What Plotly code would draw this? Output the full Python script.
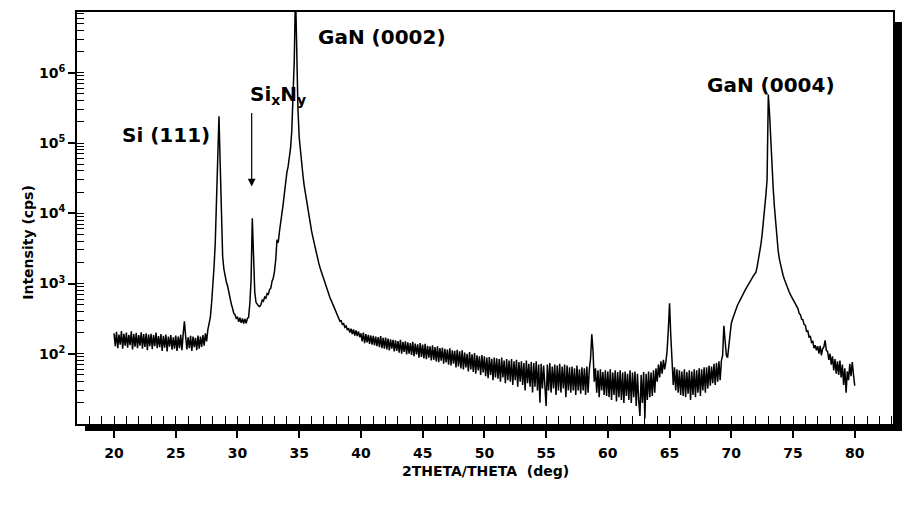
import numpy as np
import plotly.graph_objects as go

# ---- data (2theta grid 20.0 .. 80.0, step 0.1) ----
theta_start = 20.0
theta_step = 0.1
counts = [
    195, 128, 205, 120, 188, 135, 210, 118, 192, 130,   # 20
    200, 122, 186, 132, 208, 115, 190, 126, 198, 120,   # 21
    185, 130, 202, 118, 190, 125, 196, 112, 188, 128,   # 22
    192, 116, 184, 128, 200, 120, 178, 124, 190, 110,   # 23
    180, 122, 188, 108, 176, 126, 185, 114, 172, 118,   # 24
    182, 110, 175, 120, 186, 112, 190, 290, 178, 115,   # 25
    172, 120, 180, 110, 176, 124, 168, 112, 182, 118,   # 26
    176, 125, 185, 130, 195, 150, 220, 260, 330, 520,   # 27
    900, 1700, 3800, 14000, 80000, 240000, 50000, 8000, 2400, 1600,  # 28
    1250, 1050, 920, 740, 640, 510, 445, 375, 360, 320,  # 29
    335, 285, 325, 275, 318, 270, 312, 272, 318, 330,   # 30
    520, 1100, 8500, 2600, 750, 540, 500, 480, 470, 500,  # 31
    580, 560, 640, 620, 720, 700, 820, 860, 1080, 1200,  # 32
    1500, 2200, 4200, 3800, 5500, 8000, 11000, 13500, 19000, 28000,  # 33
    38000, 46000, 60000, 85000, 150000, 450000, 1500000, 15000000, 1200000, 300000,  # 34
    120000, 75000, 50000, 35000, 25000, 19000, 14500, 11500, 9200, 7400,  # 35
    5600, 4600, 3800, 3200, 2700, 2200, 1900, 1650, 1450, 1250,  # 36
    1100, 960, 850, 760, 690, 620, 570, 520, 470, 420,  # 37
    400, 345, 330, 290, 295, 262, 268, 238, 248, 218,   # 38
    232, 200, 228, 190, 222, 182, 215, 178, 208, 172,   # 39
    195, 150, 200, 142, 190, 145, 186, 138, 182, 135,   # 40
    180, 132, 176, 128, 172, 124, 178, 120, 168, 118,   # 41
    170, 115, 165, 112, 160, 118, 158, 108, 155, 110,   # 42
    152, 104, 158, 100, 148, 106, 150, 98, 145, 100,    # 43
    142, 96, 148, 92, 140, 98, 136, 88, 142, 90,        # 44
    135, 86, 138, 84, 130, 88, 128, 80, 132, 82,        # 45
    125, 78, 128, 76, 120, 80, 122, 72, 118, 75,        # 46
    115, 70, 120, 68, 112, 72, 110, 64, 114, 66,        # 47
    108, 62, 112, 60, 104, 64, 100, 56, 106, 60,        # 48
    98, 55, 102, 52, 95, 58, 92, 50, 96, 54,            # 49
    92, 48, 88, 45, 90, 50, 85, 42, 88, 46,             # 50
    86, 44, 84, 40, 88, 46, 80, 38, 84, 42,             # 51
    80, 40, 84, 36, 78, 42, 82, 34, 76, 40,             # 52
    78, 36, 74, 30, 80, 38, 72, 34, 76, 28,             # 53
    74, 34, 78, 30, 70, 20, 72, 32, 68, 30,             # 54
    18, 70, 30, 74, 28, 66, 32, 70, 26, 68,             # 55
    30, 72, 28, 66, 32, 70, 24, 68, 30, 64,             # 56
    28, 66, 30, 62, 26, 68, 30, 60, 27, 64,             # 57
    30, 62, 26, 66, 28, 60, 85, 190, 110, 40,           # 58
    62, 28, 58, 24, 60, 30, 55, 26, 58, 25,             # 59
    56, 24, 60, 22, 54, 26, 58, 21, 55, 24,             # 60
    58, 22, 54, 20, 56, 25, 52, 22, 58, 20,             # 61
    54, 24, 56, 18, 52, 22, 13, 50, 20, 55,             # 62
    12, 52, 22, 56, 24, 54, 25, 58, 28, 62,             # 63
    40, 70, 46, 78, 52, 82, 60, 76, 110, 220,           # 64
    525, 180, 70, 36, 64, 30, 60, 28, 58, 26,           # 65
    56, 25, 60, 24, 55, 27, 58, 22, 56, 26,             # 66
    60, 24, 58, 28, 62, 25, 60, 30, 64, 28,             # 67
    64, 32, 68, 35, 66, 38, 72, 36, 74, 40,             # 68
    78, 42, 80, 95, 250, 140, 95, 88, 130, 190,         # 69
    270, 310, 350, 400, 450, 490, 530, 580, 630, 680,   # 70
    730, 790, 850, 920, 990, 1030, 1120, 1200, 1290, 1380,  # 71
    1450, 1750, 2150, 2700, 3600, 5000, 7200, 11000, 18000, 30000,  # 72
    490000, 260000, 95000, 42000, 22000, 12000, 7000, 4300, 2900, 2200,  # 73
    1800, 1500, 1300, 1150, 1020, 900, 820, 750, 690, 640,  # 74
    600, 540, 520, 460, 440, 375, 360, 310, 305, 260,   # 75
    255, 205, 215, 170, 180, 145, 150, 120, 132, 112,   # 76
    128, 100, 130, 95, 118, 125, 155, 112, 108, 82,     # 77
    100, 70, 92, 58, 84, 52, 78, 50, 80, 46,            # 78
    70, 36, 62, 28, 56, 42, 72, 48, 76, 50,             # 79
    35,                                                 # 80
]
two_theta = np.round(theta_start + theta_step * np.arange(len(counts)), 1)

x_ticks = [20, 25, 30, 35, 40, 45, 50, 55, 60, 65, 70, 75, 80]
y_tickvals = [1e2, 1e3, 1e4, 1e5, 1e6]
y_ticktext = ["10<sup>2</sup>", "10<sup>3</sup>", "10<sup>4</sup>", "10<sup>5</sup>", "10<sup>6</sup>"]

peak_labels = ["Si (111)", "Si<sub>x</sub>N<sub>y</sub>", "GaN (0002)", "GaN (0004)"]
label_x = [27.95, 33.3, 41.7, 73.2]
label_logy = [5.12, 5.68, 6.51, 5.83]
label_anchor = ["right", "center", "center", "center"]

arrow_x = 31.15
arrow_logy = 4.38

x_range = [17.0, 83.1]
y_range_log = [1.0, 6.865]

FONT = "DejaVu Sans, Liberation Sans, Arial, sans-serif"

fig = go.Figure()
fig.add_trace(go.Scatter(x=two_theta, y=counts, mode="lines",
                         line=dict(color="black", width=1.5),
                         hoverinfo="skip", showlegend=False))

fig.update_layout(
    width=918, height=520,
    margin=dict(l=69, r=33, t=2, b=104),
    paper_bgcolor="white", plot_bgcolor="white",
    font=dict(family=FONT, color="black"),
    xaxis=dict(range=x_range, tickmode="array", tickvals=x_ticks,
               ticks="outside", ticklen=12, tickwidth=1.5, tickcolor="black",
               showline=True, linecolor="black", linewidth=1.6, mirror=True,
               showgrid=False, zeroline=False, ticklabelstandoff=3,
               tickfont=dict(family=FONT, size=14, weight="bold", color="black")),
    xaxis2=dict(range=x_range, overlaying="x", anchor="y", side="bottom",
                tickmode="linear", tick0=20, dtick=1,
                ticks="inside", ticklen=8, tickwidth=1.2, tickcolor="black",
                showticklabels=False, showgrid=False, zeroline=False, showline=False),
    yaxis=dict(type="log", range=y_range_log, tickmode="array",
               tickvals=y_tickvals, ticktext=y_ticktext,
               ticks="outside", ticklen=7, tickwidth=1.5, tickcolor="black",
               showline=True, linecolor="black", linewidth=1.6, mirror=True,
               showgrid=False, zeroline=False,
               tickfont=dict(family=FONT, size=14, weight="bold", color="black")),
    yaxis2=dict(type="log", range=y_range_log, overlaying="y", anchor="x", side="left",
                dtick="D1", ticks="inside", ticklen=7, tickwidth=1.1, tickcolor="black",
                showticklabels=False, showgrid=False, zeroline=False, showline=False),
)

# invisible helper trace so the overlay tick axes are drawn
fig.add_trace(go.Scatter(x=[two_theta[0]], y=[counts[0]], xaxis="x2", yaxis="y2",
                         mode="markers", marker=dict(opacity=0), hoverinfo="skip",
                         showlegend=False))

# drop shadow of the frame (right and bottom)
fig.add_shape(type="rect", xref="paper", yref="paper", x0=1.0, x1=1.011, y0=-0.017, y1=0.976,
              fillcolor="black", line=dict(width=0), layer="above")
fig.add_shape(type="rect", xref="paper", yref="paper", x0=0.0098, x1=1.011, y0=-0.017, y1=0.0,
              fillcolor="black", line=dict(width=0), layer="above")

for txt, lx, ly, anc in zip(peak_labels, label_x, label_logy, label_anchor):
    fig.add_annotation(x=lx, y=ly, xref="x", yref="y", text=txt, showarrow=False,
                       xanchor=anc, yanchor="middle",
                       font=dict(family=FONT, size=20, weight="bold", color="black"))

fig.add_annotation(x=arrow_x, y=arrow_logy, xref="x", yref="y", text="",
                   showarrow=True, arrowhead=2, arrowsize=1.3, arrowwidth=1.2,
                   arrowcolor="black", ax=0, ay=-75)

fig.add_annotation(x=0.5, y=-0.1135, xref="paper", yref="paper",
                   text="2THETA/THETA  (deg)", showarrow=False,
                   xanchor="center", yanchor="middle",
                   font=dict(family=FONT, size=14, weight="bold", color="black"))
fig.add_annotation(x=-0.06, y=0.44, xref="paper", yref="paper",
                   text="Intensity (cps)", showarrow=False, textangle=-90,
                   xanchor="center", yanchor="middle",
                   font=dict(family=FONT, size=14, weight="bold", color="black"))

fig.write_html("out.html")
